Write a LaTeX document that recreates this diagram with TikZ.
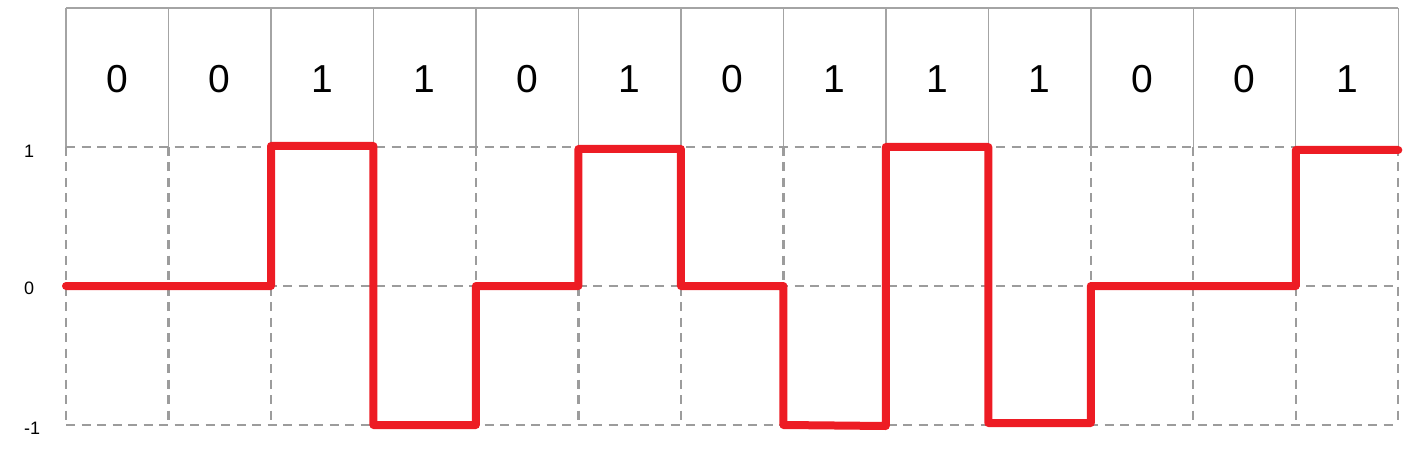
\documentclass[tikz,border=0pt]{standalone}
\usepackage{fontspec}
\setmainfont{Liberation Sans}
\definecolor{sigred}{HTML}{ED1C24}
\definecolor{gridgray}{HTML}{A4A4A4}
\definecolor{dashgray}{HTML}{9C9C9C}
\begin{document}
\begin{tikzpicture}[x=1pt,y=-1pt,
  solidgrid/.style={draw=gridgray,line width=1.4pt},
  dashgrid/.style={draw=dashgray,line width=2.4pt,dash pattern=on 9pt off 6.5pt},
  bit/.style={font=\fontsize{39}{39}\selectfont,inner sep=0pt},
  lvl/.style={font=\fontsize{18}{18}\selectfont,inner sep=0pt,anchor=west},
  signal/.style={draw=sigred,line width=8pt,line cap=round,line join=round}]
\useasboundingbox (0,0) rectangle (1410,449);
\def\cw{102.48}
% solid upper grid
\draw[solidgrid] (66,8) -- (1398.3,8);
\foreach \i in {0,...,13}{
  \draw[solidgrid] ({66+\i*\cw},8) -- ({66+\i*\cw},147);
  \draw[dashgrid] ({66+\i*\cw},147) -- ({66+\i*\cw},425);
}
\foreach \yy in {147,286,425}{
  \draw[dashgrid] (66,\yy) -- (1398.3,\yy);
}
% bit labels
\foreach \b [count=\i] in {0,0,1,1,0,1,0,1,1,1,0,0,1}{
  \node[bit] (b\i) at ({66+(\i-0.5)*\cw},79) {\b};
}
% level labels
\node[lvl] (lp) at (24,151) {1};
\node[lvl] (lz) at (24,288) {0};
\node[lvl] (lm) at (24,428) {-1};
% signal
\draw[signal] (66,286) -- (271,286) -- (271,146) -- (373.4,146) -- (373.4,425)
  -- (475.9,425) -- (475.9,286) -- (578.4,286) -- (578.4,149) -- (680.9,149)
  -- (680.9,286) -- (783.4,286) -- (783.4,425) -- (885.8,426) -- (885.8,147)
  -- (988.3,147) -- (988.3,423) -- (1090.8,423) -- (1090.8,286) -- (1295.8,286)
  -- (1295.8,150) -- (1398.3,150);
\end{tikzpicture}
\end{document}
